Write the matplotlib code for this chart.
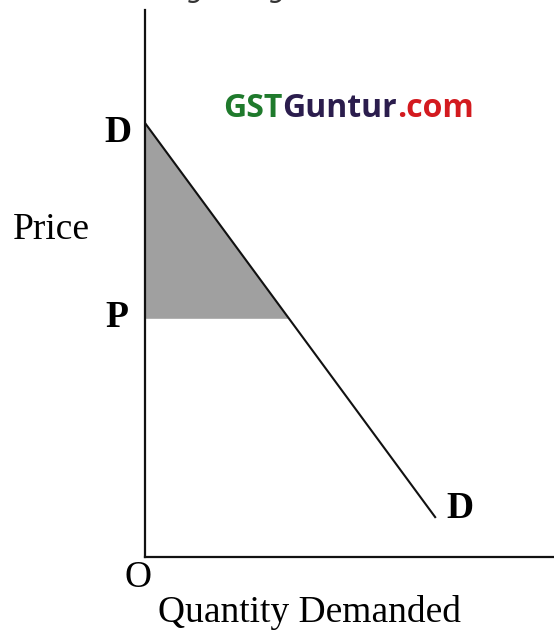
import numpy as np
import matplotlib.pyplot as plt

# demand curve (quantity, price) and consumer surplus level
demand_q = [0.0, 6.7]
demand_p = [10.0, 0.9]
market_price = 5.5
price_label = "Price"
qty_label = "Quantity Demanded"
watermark = [("GST", "#1f7a2c"), ("Guntur", "#2b1d4d"), (".com", "#d31a1f")]

W, H = 554, 636
fig = plt.figure(figsize=(W / 100, H / 100), dpi=100)
fig.patch.set_facecolor("white")

# axes placed so origin sits where the reference has it
px = 43.4  # pixels per unit
x0, y0 = 145, 557
ax = fig.add_axes([x0 / W, (H - y0) / H, (W - x0) / W, (y0 - 10) / H])
ax.set_xlim(0, (W - x0) / px)
ax.set_ylim(0, (y0 - 10) / px)
for s in ["top", "right"]:
    ax.spines[s].set_visible(False)
for s in ["left", "bottom"]:
    ax.spines[s].set_linewidth(1.6)
    ax.spines[s].set_color("#111111")
ax.set_xticks([])
ax.set_yticks([])
ax.patch.set_alpha(0)

# consumer surplus triangle
slope = (demand_p[1] - demand_p[0]) / (demand_q[1] - demand_q[0])
q_at_p = (market_price - demand_p[0]) / slope
qs = np.linspace(0, q_at_p, 50)
ax.fill_between(qs, market_price, demand_p[0] + slope * qs,
                color="#a0a0a0", lw=0)
ax.plot(demand_q, demand_p, color="#111111", lw=1.5, solid_capstyle="butt")

serif = "Liberation Serif"
fs = 27
ax.text(-0.62, demand_p[0] - 0.22, "D", fontsize=fs, family=serif,
        fontweight="bold", ha="center", va="center", clip_on=False)
ax.text(-0.65, market_price + 0.02, "P", fontsize=fs, family=serif,
        fontweight="bold", ha="center", va="center", clip_on=False)
ax.text(demand_q[1] + 0.55, demand_p[1] + 0.22, "D", fontsize=fs, family=serif,
        fontweight="bold", ha="center", va="center", clip_on=False)
ax.text(-0.16, -0.48, "O", fontsize=fs, family=serif,
        ha="center", va="center", clip_on=False)
ax.text(-2.15, 7.55, price_label, fontsize=fs, family=serif,
        ha="center", va="center", clip_on=False)
ax.text(3.8, -1.27, qty_label, fontsize=fs, family=serif,
        ha="center", va="center", clip_on=False)

# cut-off text line at the very top (only the bottom edge shows)
fig.text(0.5, 1.0 + 3 / H, "ose the diagram given below, the s", fontsize=20,
         family="DejaVu Sans", style="italic", color="#333333",
         ha="center", va="baseline")

# watermark in three colours
fig.canvas.draw()
r = fig.canvas.get_renderer()
xpos = 223 / W
for txt, col in watermark:
    t = fig.text(xpos, (H - 117) / H, txt, fontsize=23, family="Open Sans",
                 fontweight="bold", color=col, ha="left", va="baseline")
    bb = t.get_window_extent(renderer=r)
    xpos += bb.width / W

fig.savefig("out.png", dpi=100)
